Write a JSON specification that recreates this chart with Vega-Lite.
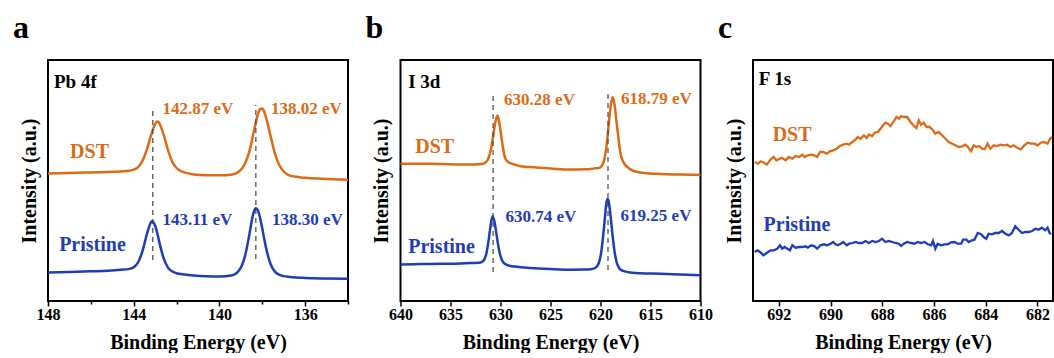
{
"$schema": "https://vega.github.io/schema/vega-lite/v6.json",
"padding": {"left": 12, "top": 11, "right": 0, "bottom": 0},
"bounds": "flush",
"spacing": 52.5,
"config": {
  "font": "Liberation Serif, Times New Roman, serif",
  "text": {"font": "Liberation Serif, Times New Roman, serif"},
  "view": {"stroke": "black", "strokeWidth": 2},
  "axis": {"labelFont": "Liberation Serif, Times New Roman, serif", "labelFontSize": 16, "labelFontWeight": "bold", "labelColor": "black",
           "titleFont": "Liberation Serif, Times New Roman, serif", "titleFontSize": 20, "titleFontWeight": "bold", "titleColor": "black",
           "grid": false, "domain": false, "tickColor": "black", "tickWidth": 1.5},
  "title": {"font": "Liberation Serif, Times New Roman, serif", "fontSize": 32, "fontWeight": "bold", "anchor": "start", "color": "black", "frame": "group"}
},
"datasets": {
  "a": [
    {"E":148,"I":127.6,"s":"DST"},{"E":147,"I":128.0,"s":"DST"},{"E":146,"I":128.6,"s":"DST"},{"E":145.2,"I":129.1,"s":"DST"},{"E":144.6,"I":129.6,"s":"DST"},{"E":144.2,"I":130.3,"s":"DST"},{"E":144.0,"I":131.3,"s":"DST"},{"E":143.8,"I":133.8,"s":"DST"},{"E":143.6,"I":139.9,"s":"DST"},{"E":143.4,"I":150.6,"s":"DST"},{"E":143.3,"I":157.6,"s":"DST"},{"E":143.2,"I":165.1,"s":"DST"},{"E":143.1,"I":171.8,"s":"DST"},{"E":143.0,"I":177.2,"s":"DST"},{"E":142.9,"I":179.4,"s":"DST"},{"E":142.8,"I":177.7,"s":"DST"},{"E":142.7,"I":172.4,"s":"DST"},{"E":142.6,"I":166.1,"s":"DST"},{"E":142.4,"I":150.8,"s":"DST"},{"E":142.2,"I":139.1,"s":"DST"},{"E":142.0,"I":133.0,"s":"DST"},{"E":141.8,"I":129.8,"s":"DST"},{"E":141.6,"I":128.4,"s":"DST"},{"E":141.2,"I":126.6,"s":"DST"},{"E":140.6,"I":125.8,"s":"DST"},{"E":140.0,"I":125.7,"s":"DST"},{"E":139.4,"I":126.6,"s":"DST"},{"E":139.0,"I":131.1,"s":"DST"},{"E":138.8,"I":137.7,"s":"DST"},{"E":138.6,"I":149.9,"s":"DST"},{"E":138.5,"I":158.8,"s":"DST"},{"E":138.4,"I":168.8,"s":"DST"},{"E":138.3,"I":178.6,"s":"DST"},{"E":138.2,"I":186.9,"s":"DST"},{"E":138.1,"I":192.0,"s":"DST"},{"E":138.0,"I":192.5,"s":"DST"},{"E":137.9,"I":188.7,"s":"DST"},{"E":137.8,"I":181.7,"s":"DST"},{"E":137.6,"I":163.6,"s":"DST"},{"E":137.4,"I":146.8,"s":"DST"},{"E":137.2,"I":135.5,"s":"DST"},{"E":137.0,"I":129.5,"s":"DST"},{"E":136.8,"I":126.2,"s":"DST"},{"E":136.4,"I":124.2,"s":"DST"},{"E":136.0,"I":123.2,"s":"DST"},{"E":135.2,"I":122.2,"s":"DST"},{"E":134.0,"I":121.3,"s":"DST"},
    {"E":148,"I":28.4,"s":"Pristine"},{"E":147,"I":29.0,"s":"Pristine"},{"E":146,"I":29.7,"s":"Pristine"},{"E":145.2,"I":30.3,"s":"Pristine"},{"E":144.6,"I":31.2,"s":"Pristine"},{"E":144.2,"I":32.1,"s":"Pristine"},{"E":144.0,"I":33.7,"s":"Pristine"},{"E":143.8,"I":38.5,"s":"Pristine"},{"E":143.6,"I":49.3,"s":"Pristine"},{"E":143.4,"I":65.7,"s":"Pristine"},{"E":143.3,"I":73.1,"s":"Pristine"},{"E":143.2,"I":78.6,"s":"Pristine"},{"E":143.15,"I":79.8,"s":"Pristine"},{"E":143.1,"I":79.3,"s":"Pristine"},{"E":143.0,"I":75.2,"s":"Pristine"},{"E":142.9,"I":67.8,"s":"Pristine"},{"E":142.8,"I":58.4,"s":"Pristine"},{"E":142.7,"I":49.9,"s":"Pristine"},{"E":142.6,"I":42.6,"s":"Pristine"},{"E":142.4,"I":33.4,"s":"Pristine"},{"E":142.2,"I":29.5,"s":"Pristine"},{"E":142.0,"I":27.8,"s":"Pristine"},{"E":141.8,"I":26.9,"s":"Pristine"},{"E":141.6,"I":26.4,"s":"Pristine"},{"E":141.2,"I":25.5,"s":"Pristine"},{"E":140.6,"I":24.8,"s":"Pristine"},{"E":140.0,"I":24.6,"s":"Pristine"},{"E":139.4,"I":25.8,"s":"Pristine"},{"E":139.0,"I":33.4,"s":"Pristine"},{"E":138.8,"I":45.6,"s":"Pristine"},{"E":138.6,"I":66.9,"s":"Pristine"},{"E":138.5,"I":79.2,"s":"Pristine"},{"E":138.4,"I":88.8,"s":"Pristine"},{"E":138.3,"I":92.8,"s":"Pristine"},{"E":138.2,"I":90.4,"s":"Pristine"},{"E":138.1,"I":82.6,"s":"Pristine"},{"E":138.0,"I":72.5,"s":"Pristine"},{"E":137.9,"I":61.0,"s":"Pristine"},{"E":137.8,"I":50.9,"s":"Pristine"},{"E":137.6,"I":36.2,"s":"Pristine"},{"E":137.4,"I":29.1,"s":"Pristine"},{"E":137.2,"I":26.1,"s":"Pristine"},{"E":137.0,"I":24.9,"s":"Pristine"},{"E":136.8,"I":24.3,"s":"Pristine"},{"E":136.4,"I":23.5,"s":"Pristine"},{"E":136.0,"I":23.1,"s":"Pristine"},{"E":135.2,"I":22.6,"s":"Pristine"},{"E":134.0,"I":22.2,"s":"Pristine"}
  ],
  "b": [
    {"E":640,"I":137.3,"s":"DST"},{"E":638,"I":137.2,"s":"DST"},{"E":636,"I":137.0,"s":"DST"},{"E":634,"I":136.5,"s":"DST"},{"E":633,"I":136.5,"s":"DST"},{"E":632.5,"I":136.6,"s":"DST"},{"E":632,"I":136.9,"s":"DST"},{"E":631.8,"I":137.2,"s":"DST"},{"E":631.6,"I":137.9,"s":"DST"},{"E":631.4,"I":139.5,"s":"DST"},{"E":631.2,"I":143.0,"s":"DST"},{"E":631.0,"I":149.7,"s":"DST"},{"E":630.8,"I":160.9,"s":"DST"},{"E":630.6,"I":174.0,"s":"DST"},{"E":630.4,"I":183.6,"s":"DST"},{"E":630.3,"I":185.5,"s":"DST"},{"E":630.2,"I":182.4,"s":"DST"},{"E":630.0,"I":170.2,"s":"DST"},{"E":629.8,"I":156.2,"s":"DST"},{"E":629.6,"I":145.1,"s":"DST"},{"E":629.4,"I":140.6,"s":"DST"},{"E":629.2,"I":138.8,"s":"DST"},{"E":629.0,"I":137.8,"s":"DST"},{"E":628.6,"I":136.5,"s":"DST"},{"E":628,"I":134.8,"s":"DST"},{"E":627,"I":133.9,"s":"DST"},{"E":625,"I":132.5,"s":"DST"},{"E":623,"I":131.4,"s":"DST"},{"E":621.5,"I":131.7,"s":"DST"},{"E":621,"I":132.0,"s":"DST"},{"E":620.5,"I":132.7,"s":"DST"},{"E":620.2,"I":133.0,"s":"DST"},{"E":620.0,"I":133.8,"s":"DST"},{"E":619.8,"I":136.4,"s":"DST"},{"E":619.6,"I":142.3,"s":"DST"},{"E":619.4,"I":154.8,"s":"DST"},{"E":619.2,"I":174.1,"s":"DST"},{"E":619.0,"I":193.4,"s":"DST"},{"E":618.8,"I":203.9,"s":"DST"},{"E":618.6,"I":196.6,"s":"DST"},{"E":618.4,"I":179.5,"s":"DST"},{"E":618.2,"I":162.1,"s":"DST"},{"E":618.0,"I":147.6,"s":"DST"},{"E":617.8,"I":141.0,"s":"DST"},{"E":617.6,"I":137.0,"s":"DST"},{"E":617.2,"I":133.0,"s":"DST"},{"E":616.8,"I":130.5,"s":"DST"},{"E":616,"I":128.6,"s":"DST"},{"E":614,"I":127.0,"s":"DST"},{"E":612,"I":126.5,"s":"DST"},{"E":610,"I":126.1,"s":"DST"},
    {"E":640,"I":36.5,"s":"Pristine"},{"E":638,"I":36.9,"s":"Pristine"},{"E":636,"I":37.2,"s":"Pristine"},{"E":634,"I":37.6,"s":"Pristine"},{"E":633,"I":38.0,"s":"Pristine"},{"E":632.5,"I":38.1,"s":"Pristine"},{"E":632,"I":38.6,"s":"Pristine"},{"E":631.8,"I":39.5,"s":"Pristine"},{"E":631.6,"I":41.9,"s":"Pristine"},{"E":631.4,"I":48.1,"s":"Pristine"},{"E":631.2,"I":59.9,"s":"Pristine"},{"E":631.0,"I":74.5,"s":"Pristine"},{"E":630.8,"I":84.8,"s":"Pristine"},{"E":630.6,"I":79.2,"s":"Pristine"},{"E":630.4,"I":66.7,"s":"Pristine"},{"E":630.2,"I":54.0,"s":"Pristine"},{"E":630.0,"I":44.8,"s":"Pristine"},{"E":629.8,"I":39.8,"s":"Pristine"},{"E":629.6,"I":37.4,"s":"Pristine"},{"E":629.4,"I":36.3,"s":"Pristine"},{"E":629.2,"I":35.5,"s":"Pristine"},{"E":629.0,"I":35.0,"s":"Pristine"},{"E":628.6,"I":34.4,"s":"Pristine"},{"E":628,"I":33.7,"s":"Pristine"},{"E":627,"I":32.9,"s":"Pristine"},{"E":625,"I":31.9,"s":"Pristine"},{"E":623,"I":31.3,"s":"Pristine"},{"E":621.5,"I":31.4,"s":"Pristine"},{"E":621,"I":31.8,"s":"Pristine"},{"E":620.5,"I":33.3,"s":"Pristine"},{"E":620.2,"I":37.3,"s":"Pristine"},{"E":620.0,"I":44.4,"s":"Pristine"},{"E":619.8,"I":59.1,"s":"Pristine"},{"E":619.6,"I":78.9,"s":"Pristine"},{"E":619.4,"I":98.5,"s":"Pristine"},{"E":619.3,"I":102.0,"s":"Pristine"},{"E":619.2,"I":100.5,"s":"Pristine"},{"E":619.0,"I":85.6,"s":"Pristine"},{"E":618.8,"I":66.1,"s":"Pristine"},{"E":618.6,"I":49.8,"s":"Pristine"},{"E":618.4,"I":39.3,"s":"Pristine"},{"E":618.2,"I":34.1,"s":"Pristine"},{"E":618.0,"I":31.4,"s":"Pristine"},{"E":617.8,"I":30.3,"s":"Pristine"},{"E":617.6,"I":29.6,"s":"Pristine"},{"E":617.2,"I":28.8,"s":"Pristine"},{"E":616.8,"I":28.3,"s":"Pristine"},{"E":616,"I":27.8,"s":"Pristine"},{"E":614,"I":27.3,"s":"Pristine"},{"E":612,"I":26.5,"s":"Pristine"},{"E":610,"I":25.8,"s":"Pristine"}
  ],
  "c": [
    {"E":692.93,"I":139,"s":"DST"},{"E":692.81,"I":137.3,"s":"DST"},{"E":692.70,"I":139.7,"s":"DST"},{"E":692.57,"I":138.3,"s":"DST"},{"E":692.47,"I":136.3,"s":"DST"},{"E":692.34,"I":140.7,"s":"DST"},{"E":692.21,"I":144,"s":"DST"},{"E":692.09,"I":140.7,"s":"DST"},{"E":691.96,"I":142.3,"s":"DST"},{"E":691.87,"I":143,"s":"DST"},{"E":691.74,"I":140.7,"s":"DST"},{"E":691.61,"I":144,"s":"DST"},{"E":691.48,"I":142.3,"s":"DST"},{"E":691.35,"I":145,"s":"DST"},{"E":691.22,"I":144,"s":"DST"},{"E":691.09,"I":146.3,"s":"DST"},{"E":691.00,"I":144,"s":"DST"},{"E":690.88,"I":145.7,"s":"DST"},{"E":690.75,"I":146.3,"s":"DST"},{"E":690.64,"I":145.7,"s":"DST"},{"E":690.52,"I":144,"s":"DST"},{"E":690.41,"I":149,"s":"DST"},{"E":690.28,"I":149,"s":"DST"},{"E":690.15,"I":147.3,"s":"DST"},{"E":690.03,"I":149.7,"s":"DST"},{"E":689.90,"I":150.7,"s":"DST"},{"E":689.77,"I":152.3,"s":"DST"},{"E":689.64,"I":155,"s":"DST"},{"E":689.51,"I":156.3,"s":"DST"},{"E":689.38,"I":157.3,"s":"DST"},{"E":689.29,"I":156.3,"s":"DST"},{"E":689.16,"I":159,"s":"DST"},{"E":689.03,"I":161.7,"s":"DST"},{"E":688.95,"I":164,"s":"DST"},{"E":688.84,"I":162.3,"s":"DST"},{"E":688.71,"I":165.7,"s":"DST"},{"E":688.61,"I":163,"s":"DST"},{"E":688.52,"I":166.3,"s":"DST"},{"E":688.39,"I":165,"s":"DST"},{"E":688.30,"I":168.3,"s":"DST"},{"E":688.17,"I":169,"s":"DST"},{"E":688.07,"I":172.3,"s":"DST"},{"E":687.97,"I":175.7,"s":"DST"},{"E":687.88,"I":178.3,"s":"DST"},{"E":687.79,"I":177.3,"s":"DST"},{"E":687.68,"I":175,"s":"DST"},{"E":687.58,"I":179,"s":"DST"},{"E":687.45,"I":184,"s":"DST"},{"E":687.36,"I":182.3,"s":"DST"},{"E":687.27,"I":185,"s":"DST"},{"E":687.17,"I":184,"s":"DST"},{"E":687.04,"I":184,"s":"DST"},{"E":686.91,"I":179,"s":"DST"},{"E":686.78,"I":175,"s":"DST"},{"E":686.68,"I":173,"s":"DST"},{"E":686.59,"I":180.7,"s":"DST"},{"E":686.50,"I":176.3,"s":"DST"},{"E":686.40,"I":178.3,"s":"DST"},{"E":686.29,"I":174,"s":"DST"},{"E":686.17,"I":174,"s":"DST"},{"E":686.04,"I":170.7,"s":"DST"},{"E":685.95,"I":167.3,"s":"DST"},{"E":685.82,"I":169,"s":"DST"},{"E":685.69,"I":165.7,"s":"DST"},{"E":685.56,"I":162.3,"s":"DST"},{"E":685.43,"I":159,"s":"DST"},{"E":685.30,"I":157.3,"s":"DST"},{"E":685.17,"I":155.7,"s":"DST"},{"E":685.05,"I":154,"s":"DST"},{"E":684.92,"I":154.7,"s":"DST"},{"E":684.79,"I":156.3,"s":"DST"},{"E":684.69,"I":154,"s":"DST"},{"E":684.57,"I":149.7,"s":"DST"},{"E":684.47,"I":155.7,"s":"DST"},{"E":684.36,"I":154,"s":"DST"},{"E":684.26,"I":155,"s":"DST"},{"E":684.14,"I":152.3,"s":"DST"},{"E":684.04,"I":151.7,"s":"DST"},{"E":683.93,"I":157.3,"s":"DST"},{"E":683.82,"I":152.3,"s":"DST"},{"E":683.69,"I":155.7,"s":"DST"},{"E":683.57,"I":155,"s":"DST"},{"E":683.44,"I":156.3,"s":"DST"},{"E":683.31,"I":155.7,"s":"DST"},{"E":683.18,"I":156.3,"s":"DST"},{"E":683.05,"I":154,"s":"DST"},{"E":682.92,"I":155.7,"s":"DST"},{"E":682.79,"I":153.3,"s":"DST"},{"E":682.64,"I":151.7,"s":"DST"},{"E":682.51,"I":155.7,"s":"DST"},{"E":682.38,"I":158.3,"s":"DST"},{"E":682.25,"I":157.3,"s":"DST"},{"E":682.12,"I":157.3,"s":"DST"},{"E":681.99,"I":155.7,"s":"DST"},{"E":681.87,"I":158.3,"s":"DST"},{"E":681.74,"I":159,"s":"DST"},{"E":681.61,"I":157.3,"s":"DST"},{"E":681.51,"I":162.3,"s":"DST"},{"E":681.44,"I":164,"s":"DST"},
    {"E":692.93,"I":49,"s":"Pristine"},{"E":692.83,"I":50.7,"s":"Pristine"},{"E":692.73,"I":49,"s":"Pristine"},{"E":692.60,"I":45.7,"s":"Pristine"},{"E":692.51,"I":47.3,"s":"Pristine"},{"E":692.42,"I":49,"s":"Pristine"},{"E":692.32,"I":50.7,"s":"Pristine"},{"E":692.19,"I":50.7,"s":"Pristine"},{"E":692.06,"I":52.3,"s":"Pristine"},{"E":691.96,"I":55.7,"s":"Pristine"},{"E":691.87,"I":52.3,"s":"Pristine"},{"E":691.78,"I":54,"s":"Pristine"},{"E":691.67,"I":52.3,"s":"Pristine"},{"E":691.57,"I":50.7,"s":"Pristine"},{"E":691.48,"I":55.7,"s":"Pristine"},{"E":691.35,"I":53.3,"s":"Pristine"},{"E":691.22,"I":54,"s":"Pristine"},{"E":691.09,"I":54,"s":"Pristine"},{"E":690.97,"I":54.7,"s":"Pristine"},{"E":690.88,"I":53.3,"s":"Pristine"},{"E":690.75,"I":55.7,"s":"Pristine"},{"E":690.62,"I":54.7,"s":"Pristine"},{"E":690.52,"I":52.3,"s":"Pristine"},{"E":690.39,"I":55.7,"s":"Pristine"},{"E":690.26,"I":56.7,"s":"Pristine"},{"E":690.13,"I":55.7,"s":"Pristine"},{"E":690.00,"I":57.3,"s":"Pristine"},{"E":689.90,"I":59,"s":"Pristine"},{"E":689.81,"I":56.7,"s":"Pristine"},{"E":689.72,"I":55.7,"s":"Pristine"},{"E":689.61,"I":57.3,"s":"Pristine"},{"E":689.51,"I":59,"s":"Pristine"},{"E":689.38,"I":55.7,"s":"Pristine"},{"E":689.28,"I":57.3,"s":"Pristine"},{"E":689.16,"I":58,"s":"Pristine"},{"E":689.03,"I":59,"s":"Pristine"},{"E":688.91,"I":58,"s":"Pristine"},{"E":688.78,"I":58,"s":"Pristine"},{"E":688.65,"I":60,"s":"Pristine"},{"E":688.52,"I":58,"s":"Pristine"},{"E":688.39,"I":60,"s":"Pristine"},{"E":688.26,"I":59,"s":"Pristine"},{"E":688.13,"I":60,"s":"Pristine"},{"E":688.01,"I":62.3,"s":"Pristine"},{"E":687.88,"I":59,"s":"Pristine"},{"E":687.75,"I":60,"s":"Pristine"},{"E":687.62,"I":59,"s":"Pristine"},{"E":687.49,"I":58,"s":"Pristine"},{"E":687.36,"I":57.3,"s":"Pristine"},{"E":687.27,"I":55,"s":"Pristine"},{"E":687.17,"I":57.3,"s":"Pristine"},{"E":687.04,"I":59,"s":"Pristine"},{"E":686.91,"I":58,"s":"Pristine"},{"E":686.76,"I":57.3,"s":"Pristine"},{"E":686.63,"I":59,"s":"Pristine"},{"E":686.50,"I":58,"s":"Pristine"},{"E":686.37,"I":59,"s":"Pristine"},{"E":686.24,"I":56.7,"s":"Pristine"},{"E":686.11,"I":55.7,"s":"Pristine"},{"E":686.04,"I":60,"s":"Pristine"},{"E":685.95,"I":52.3,"s":"Pristine"},{"E":685.86,"I":57.3,"s":"Pristine"},{"E":685.73,"I":55.7,"s":"Pristine"},{"E":685.60,"I":56.7,"s":"Pristine"},{"E":685.47,"I":56.7,"s":"Pristine"},{"E":685.34,"I":58.7,"s":"Pristine"},{"E":685.21,"I":59,"s":"Pristine"},{"E":685.08,"I":57.3,"s":"Pristine"},{"E":684.95,"I":57.3,"s":"Pristine"},{"E":684.88,"I":61.3,"s":"Pristine"},{"E":684.75,"I":61.3,"s":"Pristine"},{"E":684.66,"I":59,"s":"Pristine"},{"E":684.53,"I":60.7,"s":"Pristine"},{"E":684.44,"I":61.3,"s":"Pristine"},{"E":684.31,"I":68,"s":"Pristine"},{"E":684.18,"I":66.7,"s":"Pristine"},{"E":684.08,"I":64,"s":"Pristine"},{"E":683.98,"I":62.3,"s":"Pristine"},{"E":683.89,"I":67.3,"s":"Pristine"},{"E":683.76,"I":66.7,"s":"Pristine"},{"E":683.63,"I":68,"s":"Pristine"},{"E":683.50,"I":68,"s":"Pristine"},{"E":683.37,"I":70,"s":"Pristine"},{"E":683.24,"I":67.3,"s":"Pristine"},{"E":683.11,"I":65.7,"s":"Pristine"},{"E":682.99,"I":68,"s":"Pristine"},{"E":682.86,"I":74.7,"s":"Pristine"},{"E":682.73,"I":71.3,"s":"Pristine"},{"E":682.60,"I":68,"s":"Pristine"},{"E":682.47,"I":69,"s":"Pristine"},{"E":682.34,"I":69,"s":"Pristine"},{"E":682.21,"I":70,"s":"Pristine"},{"E":682.08,"I":72.3,"s":"Pristine"},{"E":681.96,"I":71.3,"s":"Pristine"},{"E":681.83,"I":73.3,"s":"Pristine"},{"E":681.70,"I":70.7,"s":"Pristine"},{"E":681.61,"I":73.3,"s":"Pristine"},{"E":681.53,"I":68,"s":"Pristine"},{"E":681.48,"I":66.7,"s":"Pristine"}
  ]
},
"hconcat": [
  {
    "width": 300, "height": 241,
    "title": {"text": "a", "dx": -35, "offset": -17, "baseline": "bottom"},
    "layer": [
      {
        "data": {"name": "a"},
        "mark": {"type": "line", "strokeWidth": 2.5, "interpolate": "monotone"},
        "encoding": {
          "x": {"field": "E", "type": "quantitative", "scale": {"domain": [134, 148], "reverse": true, "nice": false, "zero": false},
                "axis": {"title": "Binding Energy (eV)", "values": [148,146,144,142,140,138,136,134], "labelExpr": "datum.value % 4 === 0 ? datum.label : ''",
                         "tickSize": {"condition": {"test": "datum.value % 4 === 0", "value": 5}, "value": 3},
                         "labelFlush": false, "labelOverlap": false, "labelPadding": 0, "titlePadding": 10}},
          "y": {"field": "I", "type": "quantitative", "scale": {"domain": [0, 241], "nice": false, "zero": false},
                "axis": {"title": "Intensity (a.u.)", "labels": false, "ticks": false, "domain": false, "titlePadding": 9}},
          "color": {"field": "s", "type": "nominal", "scale": {"domain": ["DST", "Pristine"], "range": ["#DD6A16", "#1F3DB5"]}, "legend": null},
          "detail": {"field": "s"}
        }
      },
      {
        "data": {"values": [{"E": 143.11, "y1": 41, "y2": 194}, {"E": 138.30, "y1": 42, "y2": 196}]},
        "mark": {"type": "rule", "strokeDash": [5, 4], "color": "#444444", "strokeWidth": 1.2},
        "encoding": {"x": {"field": "E", "type": "quantitative"}, "y": {"field": "y1", "type": "quantitative"}, "y2": {"field": "y2"}}
      },
      {
        "data": {"values": [{"E": 142.66, "I": 192, "t": "142.87 eV", "s": "DST"}, {"E": 137.59, "I": 192, "t": "138.02 eV", "s": "DST"}, {"E": 142.66, "I": 81, "t": "143.11 eV", "s": "Pristine"}, {"E": 137.55, "I": 81, "t": "138.30 eV", "s": "Pristine"}]},
        "mark": {"type": "text", "fontSize": 17, "fontWeight": "bold", "align": "left", "baseline": "middle"},
        "encoding": {"x": {"field": "E", "type": "quantitative"}, "y": {"field": "I", "type": "quantitative"}, "text": {"field": "t"}, "color": {"field": "s", "type": "nominal"}}
      },
      {
        "data": {"values": [{"E": 146.97, "I": 149, "t": "DST", "s": "DST"}, {"E": 147.48, "I": 56, "t": "Pristine", "s": "Pristine"}]},
        "mark": {"type": "text", "fontSize": 20, "fontWeight": "bold", "align": "left", "baseline": "middle"},
        "encoding": {"x": {"field": "E", "type": "quantitative"}, "y": {"field": "I", "type": "quantitative"}, "text": {"field": "t"}, "color": {"field": "s", "type": "nominal"}}
      },
      {
        "data": {"values": [{"E": 147.72, "I": 219, "t": "Pb 4f"}]},
        "mark": {"type": "text", "fontSize": 19, "fontWeight": "bold", "align": "left", "baseline": "middle", "color": "black"},
        "encoding": {"x": {"field": "E", "type": "quantitative"}, "y": {"field": "I", "type": "quantitative"}, "text": {"field": "t"}}
      }
    ]
  },
  {
    "width": 300, "height": 241,
    "title": {"text": "b", "dx": -35, "offset": -17, "baseline": "bottom"},
    "layer": [
      {
        "data": {"name": "b"},
        "mark": {"type": "line", "strokeWidth": 2.5, "interpolate": "monotone"},
        "encoding": {
          "x": {"field": "E", "type": "quantitative", "scale": {"domain": [610, 640], "reverse": true, "nice": false, "zero": false},
                "axis": {"title": "Binding Energy (eV)", "values": [640,637.5,635,632.5,630,627.5,625,622.5,620,617.5,615,612.5,610], "labelExpr": "datum.value % 5 === 0 ? datum.label : ''",
                         "tickSize": {"condition": {"test": "datum.value % 5 === 0", "value": 5}, "value": 3},
                         "labelFlush": false, "labelOverlap": false, "labelPadding": 0, "titlePadding": 10}},
          "y": {"field": "I", "type": "quantitative", "scale": {"domain": [0, 241], "nice": false, "zero": false},
                "axis": {"title": "Intensity (a.u.)", "labels": false, "ticks": false, "domain": false, "titlePadding": 9}},
          "color": {"field": "s", "type": "nominal", "scale": {"domain": ["DST", "Pristine"], "range": ["#DD6A16", "#1F3DB5"]}, "legend": null},
          "detail": {"field": "s"}
        }
      },
      {
        "data": {"values": [{"E": 630.74, "y1": 29, "y2": 207}, {"E": 619.25, "y1": 31, "y2": 210}]},
        "mark": {"type": "rule", "strokeDash": [5, 4], "color": "#444444", "strokeWidth": 1.2},
        "encoding": {"x": {"field": "E", "type": "quantitative"}, "y": {"field": "y1", "type": "quantitative"}, "y2": {"field": "y2"}}
      },
      {
        "data": {"values": [{"E": 629.64, "I": 200.7, "t": "630.28 eV", "s": "DST"}, {"E": 617.96, "I": 202.3, "t": "618.79 eV", "s": "DST"}, {"E": 629.51, "I": 84, "t": "630.74 eV", "s": "Pristine"}, {"E": 617.99, "I": 84.7, "t": "619.25 eV", "s": "Pristine"}]},
        "mark": {"type": "text", "fontSize": 17, "fontWeight": "bold", "align": "left", "baseline": "middle"},
        "encoding": {"x": {"field": "E", "type": "quantitative"}, "y": {"field": "I", "type": "quantitative"}, "text": {"field": "t"}, "color": {"field": "s", "type": "nominal"}}
      },
      {
        "data": {"values": [{"E": 638.53, "I": 154, "t": "DST", "s": "DST"}, {"E": 639.23, "I": 54, "t": "Pristine", "s": "Pristine"}]},
        "mark": {"type": "text", "fontSize": 20, "fontWeight": "bold", "align": "left", "baseline": "middle"},
        "encoding": {"x": {"field": "E", "type": "quantitative"}, "y": {"field": "I", "type": "quantitative"}, "text": {"field": "t"}, "color": {"field": "s", "type": "nominal"}}
      },
      {
        "data": {"values": [{"E": 639.23, "I": 219, "t": "I 3d"}]},
        "mark": {"type": "text", "fontSize": 19, "fontWeight": "bold", "align": "left", "baseline": "middle", "color": "black"},
        "encoding": {"x": {"field": "E", "type": "quantitative"}, "y": {"field": "I", "type": "quantitative"}, "text": {"field": "t"}}
      }
    ]
  },
  {
    "width": 300, "height": 241,
    "title": {"text": "c", "dx": -35, "offset": -17, "baseline": "bottom"},
    "layer": [
      {
        "data": {"name": "c"},
        "mark": {"type": "line", "strokeWidth": 2.3},
        "encoding": {
          "x": {"field": "E", "type": "quantitative", "scale": {"domain": [681.4, 693], "reverse": true, "nice": false, "zero": false},
                "axis": {"title": "Binding Energy (eV)", "values": [692,691,690,689,688,687,686,685,684,683,682], "labelExpr": "datum.value % 2 === 0 ? datum.label : ''",
                         "tickSize": {"condition": {"test": "datum.value % 2 === 0", "value": 5}, "value": 3},
                         "labelFlush": false, "labelOverlap": false, "labelPadding": 0, "titlePadding": 10}},
          "y": {"field": "I", "type": "quantitative", "scale": {"domain": [0, 241], "nice": false, "zero": false},
                "axis": {"title": "Intensity (a.u.)", "labels": false, "ticks": false, "domain": false, "titlePadding": 9}},
          "color": {"field": "s", "type": "nominal", "scale": {"domain": ["DST", "Pristine"], "range": ["#DD6A16", "#1F3DB5"]}, "legend": null},
          "detail": {"field": "s"}
        }
      },
      {
        "data": {"values": [{"E": 692.24, "I": 166, "t": "DST", "s": "DST"}, {"E": 692.59, "I": 76, "t": "Pristine", "s": "Pristine"}]},
        "mark": {"type": "text", "fontSize": 20, "fontWeight": "bold", "align": "left", "baseline": "middle"},
        "encoding": {"x": {"field": "E", "type": "quantitative"}, "y": {"field": "I", "type": "quantitative"}, "text": {"field": "t"}, "color": {"field": "s", "type": "nominal"}}
      },
      {
        "data": {"values": [{"E": 692.78, "I": 222, "t": "F 1s"}]},
        "mark": {"type": "text", "fontSize": 19, "fontWeight": "bold", "align": "left", "baseline": "middle", "color": "black"},
        "encoding": {"x": {"field": "E", "type": "quantitative"}, "y": {"field": "I", "type": "quantitative"}, "text": {"field": "t"}}
      }
    ]
  }
]
}
